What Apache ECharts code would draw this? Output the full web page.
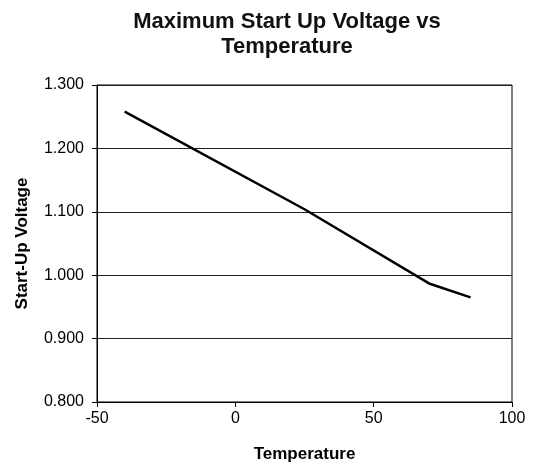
<!DOCTYPE html>
<html>
<head>
<meta charset="utf-8">
<script src="https://cdn.jsdelivr.net/npm/echarts@6/dist/echarts.min.js"></script>
<style>
  html, body { margin: 0; padding: 0; background: #fff; }
  #chart { width: 537px; height: 468px; }
</style>
</head>
<body>
<div id="chart"></div>
<script>
// temperature (°C) vs start-up voltage (V)
const temps = [-40, 25, 70, 85];
const voltages = [1.258, 1.104, 0.987, 0.965];
const xTicks = [-50, 0, 50, 100];
const yTicks = [0.8, 0.9, 1.0, 1.1, 1.2, 1.3];

const font = "Liberation Sans, Arial, sans-serif";
const chart = echarts.init(document.getElementById("chart"));

chart.setOption({
  animation: false,
  backgroundColor: "#fff",
  title: {
    text: "Maximum Start Up Voltage vs\nTemperature",
    left: 282,
    textAlign: "center",
    top: 4,
    textStyle: {
      fontFamily: font,
      fontSize: 22,
      fontWeight: "bold",
      color: "#111",
      lineHeight: 25
    }
  },
  grid: {
    left: 97,
    right: 25,
    top: 85,
    bottom: 66,
    show: true,
    borderColor: "#000",
    borderWidth: 1
  },
  xAxis: {
    type: "value",
    min: xTicks[0],
    max: xTicks[xTicks.length - 1],
    interval: 50,
    name: "Temperature",
    nameLocation: "middle",
    nameGap: 44,
    nameTextStyle: { fontFamily: font, fontSize: 17, fontWeight: "bold", color: "#000" },
    axisLine: { show: true, onZero: false, lineStyle: { color: "#000", width: 1 } },
    axisTick: { show: true, inside: false, length: 5, lineStyle: { color: "#000" } },
    axisLabel: { fontFamily: font, fontSize: 16, color: "#000", margin: 9 },
    splitLine: { show: false }
  },
  yAxis: {
    type: "value",
    min: yTicks[0],
    max: yTicks[yTicks.length - 1],
    interval: 0.1,
    name: "Start-Up Voltage",
    nameLocation: "middle",
    nameGap: 66,
    nameTextStyle: { fontFamily: font, fontSize: 17, fontWeight: "bold", color: "#000" },
    axisLine: { show: true, onZero: false, lineStyle: { color: "#000", width: 1 } },
    axisTick: { show: true, inside: false, length: 5, lineStyle: { color: "#000" } },
    axisLabel: {
      fontFamily: font,
      fontSize: 16,
      color: "#000",
      margin: 13,
      formatter: (v) => v.toFixed(3)
    },
    splitLine: { show: true, lineStyle: { color: "#222", width: 1 } }
  },
  series: [{
    type: "line",
    data: temps.map((t, i) => [t, voltages[i]]),
    showSymbol: false,
    lineStyle: { color: "#000", width: 2.5 },
    itemStyle: { color: "#000" }
  }]
});
</script>
</body>
</html>
